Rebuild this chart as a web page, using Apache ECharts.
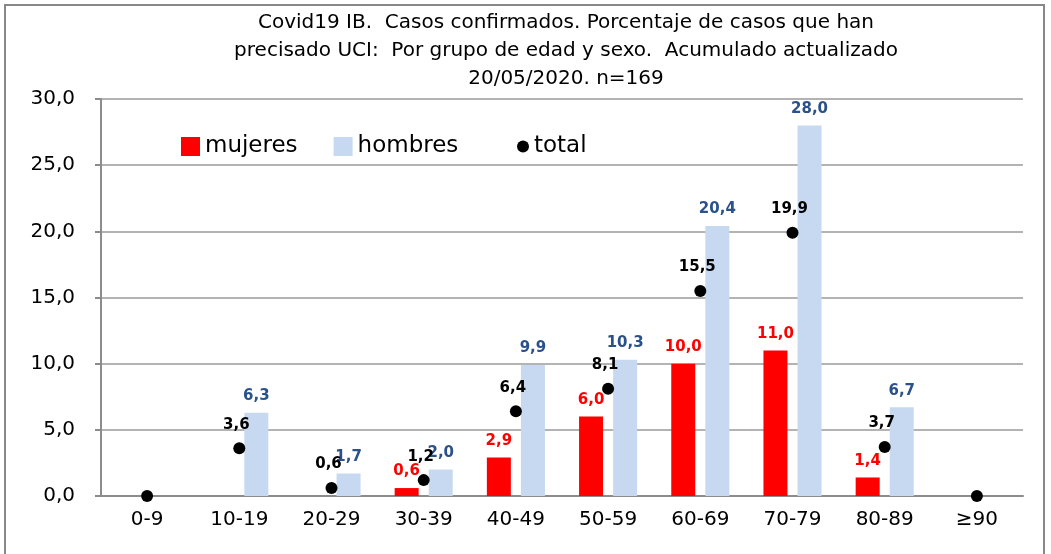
<!DOCTYPE html>
<html>
<head>
<meta charset="utf-8">
<script src="https://cdn.jsdelivr.net/npm/echarts@6/dist/echarts.min.js"></script>
<style>
  html, body { margin: 0; padding: 0; background: #fff; }
  #chart { width: 1051px; height: 554px; }
</style>
</head>
<body>
<div id="chart"></div>
<script>
// grupos de edad
var categorias = ['0-9', '10-19', '20-29', '30-39', '40-49', '50-59', '60-69', '70-79', '80-89', '≥90'];
// % que han precisado UCI
var mujeres = [null, null, null, 0.6, 2.9, 6.0, 10.0, 11.0, 1.4, null];
var hombres = [null, 6.3, 1.7, 2.0, 9.9, 10.3, 20.4, 28.0, 6.7, null];
var total = [0, 3.6, 0.6, 1.2, 6.4, 8.1, 15.5, 19.9, 3.7, 0];

var fmt = function (v) {
    if (v === null || v === undefined || v === 0) return '';
    return v.toFixed(1).replace('.', ',');
};

var chart = echarts.init(document.getElementById('chart'));
chart.setOption({
    animation: false,
    backgroundColor: '#fff',
    title: {
        text: 'Covid19 IB.  Casos confirmados. Porcentaje de casos que han\nprecisado UCI:  Por grupo de edad y sexo.  Acumulado actualizado\n20/05/2020. n=169',
        left: 561,
        top: 4,
        textAlign: 'center',
        textStyle: {
            fontFamily: 'DejaVu Sans',
            fontWeight: 'normal',
            fontSize: 20,
            lineHeight: 28,
            color: '#000'
        }
    },
    graphic: [{
        type: 'rect',
        shape: { x: 5, y: 5, width: 1039, height: 580 },
        style: { fill: 'none', stroke: '#888', lineWidth: 2 },
        silent: true
    }],
    legend: [{
        left: 176,
        top: 130,
        icon: 'rect',
        itemWidth: 19,
        itemHeight: 19,
        itemGap: 36,
        data: ['mujeres', 'hombres'],
        textStyle: { fontFamily: 'DejaVu Sans', fontSize: 23, color: '#000' }
    }, {
        left: 512,
        top: 130,
        icon: 'circle',
        itemWidth: 12,
        itemHeight: 12,
        data: ['total'],
        textStyle: { fontFamily: 'DejaVu Sans', fontSize: 23, color: '#000' }
    }],
    grid: {
        left: 101,
        right: 28,
        top: 99,
        bottom: 58
    },
    xAxis: {
        type: 'category',
        data: categorias,
        axisLine: { lineStyle: { color: '#8c8c8c', width: 2 } },
        axisTick: { length: 7, lineStyle: { color: '#8c8c8c', width: 2 } },
        axisLabel: { fontFamily: 'DejaVu Sans', fontSize: 20, color: '#000', margin: 14 }
    },
    yAxis: {
        type: 'value',
        min: 0,
        max: 30,
        interval: 5,
        axisLine: { show: true, lineStyle: { color: '#8c8c8c', width: 2 } },
        axisTick: { show: true, length: 6, lineStyle: { color: '#8c8c8c', width: 2 } },
        splitLine: { lineStyle: { color: '#9a9a9a', width: 1.5 } },
        axisLabel: {
            fontFamily: 'DejaVu Sans',
            fontSize: 20,
            color: '#000',
            margin: 26,
            formatter: function (v) { return v.toFixed(1).replace('.', ','); }
        }
    },
    series: [{
        name: 'mujeres',
        type: 'bar',
        data: mujeres,
        barWidth: 24,
        barGap: '42%',
        itemStyle: { color: '#ff0000' },
        label: {
            show: true,
            position: 'top',
            distance: 9,
            fontFamily: 'DejaVu Sans',
            fontWeight: 'bold',
            fontSize: 15,
            color: '#ff0000',
            formatter: function (p) { return fmt(p.value); }
        }
    }, {
        name: 'hombres',
        type: 'bar',
        data: hombres,
        barWidth: 24,
        itemStyle: { color: '#c6d9f1' },
        label: {
            show: true,
            position: 'top',
            distance: 9,
            fontFamily: 'DejaVu Sans',
            fontWeight: 'bold',
            fontSize: 15,
            color: '#2a5189',
            formatter: function (p) { return fmt(p.value); }
        }
    }, {
        name: 'total',
        type: 'scatter',
        data: total,
        symbol: 'circle',
        symbolSize: 12,
        itemStyle: { color: '#000', opacity: 1 },
        z: 5,
        label: {
            show: true,
            position: 'top',
            distance: 10,
            offset: [-3, 0],
            fontFamily: 'DejaVu Sans',
            fontWeight: 'bold',
            fontSize: 15,
            color: '#000',
            opacity: 1,
            formatter: function (p) { return fmt(p.value); }
        }
    }]
});
</script>
</body>
</html>
